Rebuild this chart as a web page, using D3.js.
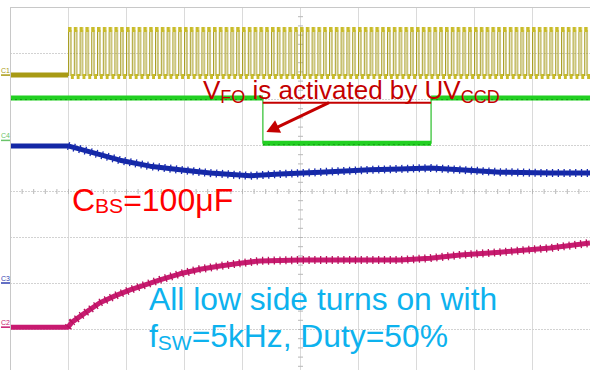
<!DOCTYPE html>
<html>
<head>
<meta charset="utf-8">
<script src="https://cdn.jsdelivr.net/npm/d3@7"></script>
<style>
  body { margin: 0; background: #fff; }
  svg { display: block; }
  text { font-family: "Liberation Sans", Arial, sans-serif; }
</style>
</head>
<body>
<div id="scope"></div>
<script>
// screen: 10 divisions of 2 ms, 8 vertical divisions (values in div)
var timeDiv = d3.range(0, 21, 2);
var voltDiv = d3.range(-4, 5, 1);

// C1 - gate signal, 5 kHz square wave after start
var fsw = 5;            // kHz
var c1Start = 2;        // ms
var c1Levels = {low: 2.5, high: 3.5, idle: 2.52};

// C4 - VFO (green)
var c4Steps = [
  {t0: 0, t1: 8.72, v: 2.02},
  {t0: 8.72, t1: 14.52, v: 1.04},
  {t0: 14.52, t1: 20, v: 2.02}
];

// blue trace
var blueT = [0, 2, 2.76, 3.79, 4.83, 5.86, 6.9, 8.28, 9.31, 10.69, 12.41, 13.45, 14.48, 15.52, 16.9, 18.62, 20];
var blueV = [0.98, 0.98, 0.85, 0.67, 0.54, 0.46, 0.39, 0.33, 0.37, 0.41, 0.46, 0.48, 0.5, 0.46, 0.41, 0.39, 0.39];

// magenta trace
var magT = [0, 2, 2.14, 2.59, 3.1, 3.62, 4.14, 4.66, 5.17, 5.86, 6.55, 7.24, 7.93, 8.62, 10, 11.72, 13.45, 14.48, 15.52, 16.9, 18.62, 20];
var magV = [-2.96, -2.96, -2.85, -2.65, -2.43, -2.28, -2.15, -2.04, -1.93, -1.8, -1.7, -1.63, -1.57, -1.52, -1.5, -1.5, -1.5, -1.46, -1.39, -1.33, -1.24, -1.13];

var W = 590, H = 370;
var svg = d3.select("#scope").append("svg").attr("width", W).attr("height", H);

var x = d3.scaleLinear().domain([0, 20]).range([10, 590]);
var y = d3.scaleLinear().domain([4, -4]).range([7, 375]);

// grid
var grid = svg.append("g");
grid.selectAll(".vg").data(timeDiv).enter().append("line")
  .attr("x1", d => x(d) + 0.5).attr("x2", d => x(d) + 0.5)
  .attr("y1", y(4)).attr("y2", y(-4))
  .attr("stroke", "#dadada");
grid.selectAll(".hg").data(voltDiv).enter().append("line")
  .attr("x1", x(0)).attr("x2", x(20))
  .attr("y1", d => y(d) + 0.5).attr("y2", d => y(d) + 0.5)
  .attr("stroke", "#d2d2d2").attr("stroke-dasharray", "2,1");

// center axis ticks
var tickT = d3.range(0, 20.01, 0.4);
var tickV = d3.range(-4, 4.01, 0.2);
grid.selectAll(".tt").data(tickT).enter().append("line")
  .attr("x1", d => x(d) + 0.5).attr("x2", d => x(d) + 0.5)
  .attr("y1", y(0) - 2).attr("y2", y(0) + 3)
  .attr("stroke", "#b8b8b8");
grid.selectAll(".tv").data(tickV).enter().append("line")
  .attr("x1", x(10) - 2).attr("x2", x(10) + 3)
  .attr("y1", d => y(d) + 0.5).attr("y2", d => y(d) + 0.5)
  .attr("stroke", "#b8b8b8");

// C1 square wave via pattern
var P = x(1 / fsw) - x(0);
var yHi = y(c1Levels.high), yLo = y(c1Levels.low);
var defs = svg.append("defs");
var pat = defs.append("pattern")
  .attr("id", "sq").attr("patternUnits", "userSpaceOnUse")
  .attr("x", x(c1Start)).attr("y", 0)
  .attr("width", P).attr("height", H);
pat.append("path")
  .attr("d", "M0.6," + yLo + "V" + yHi + "M" + (P / 2) + "," + yHi + "V" + yLo)
  .attr("stroke", "#a59a1a").attr("stroke-width", 1.1).attr("fill", "none");
pat.append("rect").attr("x", 0).attr("y", yHi - 3).attr("width", P / 2 + 0.6).attr("height", 5)
  .attr("fill", "#c9bc2a");
pat.append("rect").attr("x", P / 2).attr("y", yLo - 2).attr("width", P / 2 + 0.6).attr("height", 5)
  .attr("fill", "#c9bc2a");
svg.append("rect")
  .attr("x", x(c1Start)).attr("y", yHi - 4)
  .attr("width", x(20) - x(c1Start)).attr("height", yLo - yHi + 8)
  .attr("fill", "url(#sq)");
svg.append("line")
  .attr("x1", x(0)).attr("x2", x(c1Start))
  .attr("y1", y(c1Levels.idle)).attr("y2", y(c1Levels.idle))
  .attr("stroke", "#a89a14").attr("stroke-width", 5);

// C4 green steps
var c4Path = [];
c4Steps.forEach(function(s) { c4Path.push([s.t0, s.v], [s.t1, s.v]); });
var line = d3.line().x(d => x(d[0])).y(d => y(d[1]));
svg.append("path").attr("d", line(c4Path))
  .attr("fill", "none").attr("stroke", "#2bbf2b").attr("stroke-width", 1.2);
svg.selectAll(".c4").data(c4Steps).enter().append("line")
  .attr("x1", d => x(d.t0)).attr("x2", d => x(d.t1))
  .attr("y1", d => y(d.v)).attr("y2", d => y(d.v))
  .attr("stroke", "#22d022").attr("stroke-width", 5);
svg.selectAll(".c4b").data(c4Steps).enter().append("line")
  .attr("x1", d => x(d.t0)).attr("x2", d => x(d.t1))
  .attr("y1", d => y(d.v) + 1.5).attr("y2", d => y(d.v) + 1.5)
  .attr("stroke", "#149a14").attr("stroke-width", 1).attr("stroke-dasharray", "2,3");

// blue and magenta, with switching ripple texture after start
var blue = blueT.map((t, i) => [t, blueV[i]]);
var mag = magT.map((t, i) => [t, magV[i]]);
function trace(pts, col, dark) {
  svg.append("path").attr("d", line(pts))
    .attr("fill", "none").attr("stroke", col).attr("stroke-width", 5).attr("stroke-linejoin", "round");
  var after = pts.filter(d => d[0] >= c1Start);
  svg.append("path").attr("d", line(after))
    .attr("fill", "none").attr("stroke", dark).attr("stroke-width", 8)
    .attr("stroke-dasharray", "1.3," + (P - 1.3));
}
trace(blue, "#1428a6", "#1a2cb0");
trace(mag, "#c81a70", "#b8145f");

// frame
svg.append("path")
  .attr("d", "M" + (x(0) + 0.5) + "," + H + "V" + (y(4) + 0.5) + "H" + W)
  .attr("fill", "none").attr("stroke", "#c8c8c8");

// channel markers
var marks = [
  {name: "C1", v: c1Levels.idle, col: "#a89a14"},
  {name: "C4", v: 1.1, col: "#6ac46a"},
  {name: "C3", v: -2, col: "#3040b0"},
  {name: "C2", v: -2.96, col: "#c81a70"}
];
svg.selectAll(".mk").data(marks).enter().append("line")
  .attr("x1", 1).attr("x2", x(0))
  .attr("y1", d => y(d.v)).attr("y2", d => y(d.v))
  .attr("stroke", d => d.col).attr("stroke-width", 1.5);
svg.selectAll(".mt").data(marks).enter().append("text")
  .attr("x", 1).attr("y", d => y(d.v) - 2)
  .attr("font-size", 7).attr("fill", d => d.col)
  .text(d => d.name);

// annotations
var ann = svg.append("g");
var t1 = ann.append("text").attr("x", 203).attr("y", 99).attr("fill", "#c40000").attr("font-size", 26);
t1.append("tspan").text("V");
t1.append("tspan").attr("font-size", 18).attr("dy", 4).text("FO");
t1.append("tspan").attr("dy", -4).text(" is activated by UV");
t1.append("tspan").attr("font-size", 18).attr("dy", 4).text("CCD");

var arrowY = 1.92;
ann.append("line")
  .attr("x1", x(c4Steps[1].t0)).attr("x2", x(c4Steps[1].t1))
  .attr("y1", y(arrowY)).attr("y2", y(arrowY))
  .attr("stroke", "#c40000").attr("stroke-width", 2);
ann.append("line")
  .attr("x1", x(11.0)).attr("y1", y(arrowY))
  .attr("x2", x(9.1)).attr("y2", y(1.35))
  .attr("stroke", "#c40000").attr("stroke-width", 3);
var tip = [x(8.84), y(1.28)];
var ang = Math.atan2(y(1.35) - y(arrowY), x(9.1) - x(11.0));
var hl = 13, hw = 7;
var bx = tip[0] - hl * Math.cos(ang), by = tip[1] - hl * Math.sin(ang);
ann.append("path")
  .attr("d", "M" + tip + "L" + (bx - hw * Math.sin(ang)) + "," + (by + hw * Math.cos(ang)) +
        "L" + (bx + hw * Math.sin(ang)) + "," + (by - hw * Math.cos(ang)) + "Z")
  .attr("fill", "#c40000");

var t2 = ann.append("text").attr("x", 72).attr("y", 211).attr("fill", "#ff0000").attr("font-size", 32);
t2.append("tspan").text("C");
t2.append("tspan").attr("font-size", 21).attr("dy", 2).text("BS");
t2.append("tspan").attr("dy", -2).text("=100\u03bcF");

ann.append("text").attr("x", 149).attr("y", 310).attr("fill", "#0db2ee").attr("font-size", 31.8)
  .text("All low side turns on with");
var t3 = ann.append("text").attr("x", 149).attr("y", 347).attr("fill", "#0db2ee").attr("font-size", 31.8);
t3.append("tspan").text("f");
t3.append("tspan").attr("font-size", 21).attr("dy", 3).text("SW");
t3.append("tspan").attr("dy", -3).text("=5kHz, Duty=50%");
</script>
</body>
</html>
